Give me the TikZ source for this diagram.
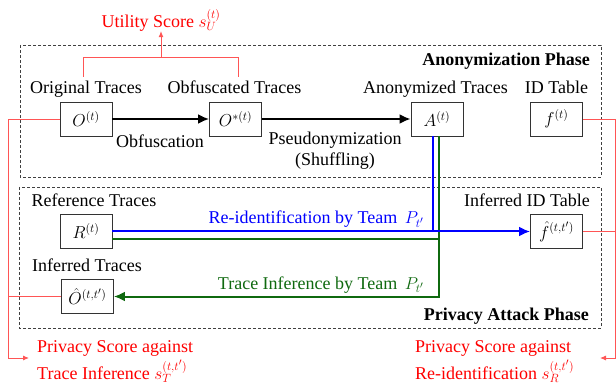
\documentclass[tikz,border=0pt]{standalone}
\usepackage{fontspec}
\setmainfont{Liberation Serif}
\DeclareMathSizes{18}{18}{13}{10}
\usetikzlibrary{arrows.meta}
\definecolor{txtred}{RGB}{255,0,0}
\definecolor{redline}{RGB}{255,85,85}
\definecolor{myblue}{RGB}{0,0,255}
\definecolor{mygreen}{RGB}{15,105,15}
\begin{document}
\begin{tikzpicture}[x=1pt,y=-1pt,
  font=\fontsize{18}{21}\selectfont,
  databox/.style={draw=black!80, line width=0.9pt, minimum width=52pt, minimum height=34pt, inner sep=0pt},
  phasebox/.style={draw=black!75, dash pattern=on 3pt off 2pt, line width=0.8pt},
  lbl/.style={inner sep=0pt, anchor=base},
  redl/.style={draw=redline, line width=0.9pt},
  redtip/.style={-{Latex[length=6pt,width=5pt]}},
  blk/.style={draw=black, line width=2pt, -{Latex[length=11pt,width=10pt]}},
  bl/.style={draw=myblue, line width=2pt},
  gr/.style={draw=mygreen, line width=2pt},
  bigtip/.style={-{Latex[length=11pt,width=10pt]}}]
\useasboundingbox (0,0) rectangle (616,390);

% phase frames
\draw[phasebox] (20,45) rectangle (601,177);
\draw[phasebox] (19,187) rectangle (601,328);
\node[lbl, anchor=base east, font=\fontsize{18}{21}\selectfont\bfseries] (ph1) at (590,66) {Anonymization Phase};
\node[lbl, anchor=base east, font=\fontsize{18}{21}\selectfont\bfseries] (ph2) at (589,320) {Privacy Attack Phase};

% data boxes
\node[databox] (O) at (86,119) {$O^{(t)}$};
\node[databox] (Os) at (235.5,119) {$O^{*(t)}$};
\node[databox] (A) at (437,119) {$A^{(t)}$};
\node[databox] (f) at (556.5,119) {$f^{(t)}$};
\node[databox] (R) at (86,231) {$R^{(t)}$};
\node[databox] (Oh) at (87.5,296.5) {$\hat{O}^{(t,t')}$};
\node[databox] (fh) at (556.5,231.5) {$\hat{f}^{(t,t')}$};

% labels
\node[lbl] (lO) at (86,94) {Original Traces};
\node[lbl] (lOs) at (234.5,94) {Obfuscated Traces};
\node[lbl] (lA) at (435.5,94) {Anonymized Traces};
\node[lbl] (lf) at (556.5,94) {ID Table};
\node[lbl] (lobf) at (160,148) {Obfuscation};
\node[inner sep=0pt, align=center] (lps) at (335,151) {Pseudonymization\\(Shuffling)};
\node[lbl] (lR) at (94,207) {Reference Traces};
\node[lbl] (lOh) at (87,272) {Inferred Traces};
\node[lbl] (lfh) at (527,207) {Inferred ID Table};

% utility score
\node[inner sep=0pt, text=txtred] (us) at (161,20) {Utility Score $s_U^{(t)}$};
\coordinate (ub) at (161,57);
\coordinate (u1) at (83,77);
\coordinate (u2) at (238,77);
\draw[redl] (u1) |- (u2 |- ub) -- (u2);
\draw[redl, redtip] (ub) -- (us.south);

% main flow
\draw[blk] (O.east) -- (Os.west);
\draw[blk] (Os.east) -- (A.west);

% attack flows
\coordinate (bx) at ([xshift=-4pt]A.south);
\coordinate (gx) at ([xshift=2pt]A.south);
\draw[gr, bigtip] (gx) |- (Oh.east);
\draw[gr] ([yshift=-8pt]R.east) -- ([yshift=-8pt]R.east -| gx);
\draw[bl, bigtip] (bx) |- (fh.west);
\draw[bl] (R.east) -- (R.east -| bx);
\node[lbl, anchor=base east, text=myblue] (lre) at (424,224) {Re-identification by Team \,$P_{t'}$};
\node[lbl, anchor=base east, text=mygreen] (lti) at (424,289) {Trace Inference by Team \,$P_{t'}$};

% privacy scores
\coordinate (lbend) at (8,358);
\coordinate (lend) at (29,358);
\draw[redl, redtip] (O.west) -| (lbend) -- (lend);
\draw[redl] (Oh.west) -- (Oh.west -| lbend);
\coordinate (rbend) at (615,358);
\coordinate (rend) at (600,358);
\draw[redl, redtip] (f.east) -| (rbend) -- (rend);
\draw[redl] (fh.east) -- (fh.east -| rbend);

\node[lbl, anchor=base west, text=txtred] (pt1) at (37,352) {Privacy Score against};
\node[lbl, anchor=base west, text=txtred] (pt2) at (37,379) {Trace Inference $s_T^{(t,t')}$};
\node[lbl, anchor=base west, text=txtred] (pr1) at (415,352) {Privacy Score against};
\node[lbl, anchor=base west, text=txtred] (pr2) at (415,379) {Re-identification $s_R^{(t,t')}$};
\end{tikzpicture}
\end{document}
